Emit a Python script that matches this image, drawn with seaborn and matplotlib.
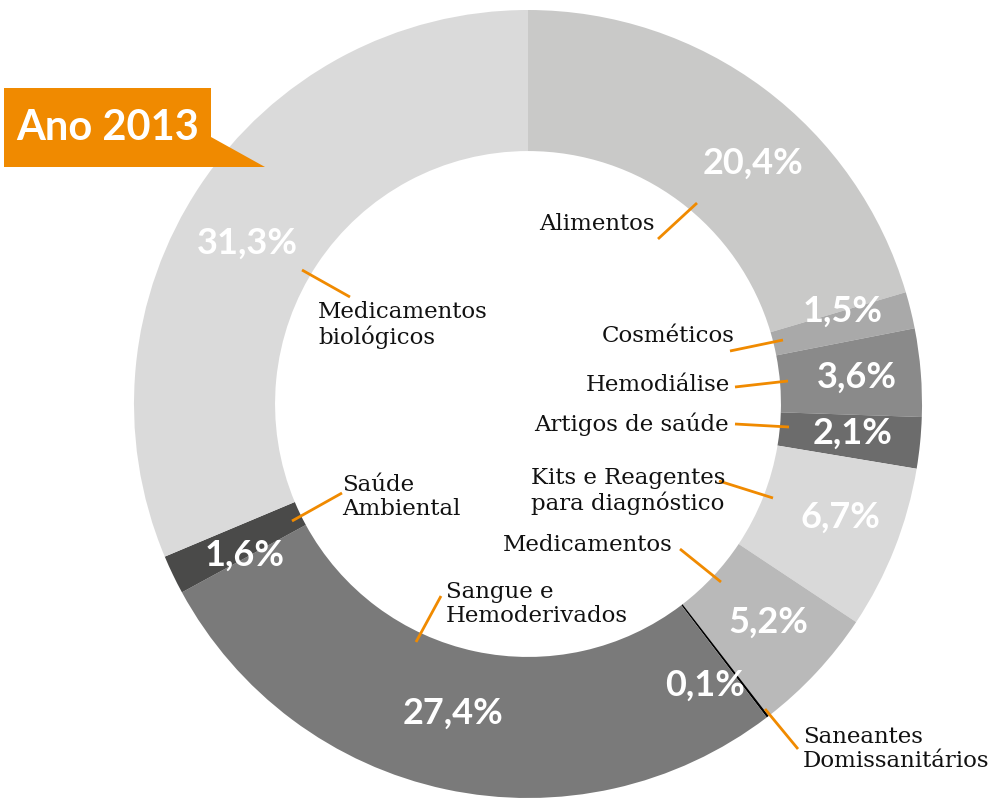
import matplotlib
matplotlib.use("Agg")
import matplotlib.pyplot as plt
from matplotlib.patches import Polygon
import seaborn as sns

# dados (fatias no sentido horário a partir do topo)
categorias = ["Alimentos", "Cosméticos", "Hemodiálise", "Artigos de saúde",
              "Kits e Reagentes\npara diagnóstico", "Medicamentos",
              "Saneantes\nDomissanitários", "Sangue e\nHemoderivados",
              "Saúde\nAmbiental", "Medicamentos\nbiológicos"]
valores = [20.4, 1.5, 3.6, 2.1, 6.7, 5.2, 0.1, 27.4, 1.6, 31.3]
rotulos_pct = ["20,4%", "1,5%", "3,6%", "2,1%", "6,7%", "5,2%", "0,1%", "27,4%", "1,6%", "31,3%"]
cores = ["#c9c9c8", "#a9a9a9", "#8a8a8a", "#6c6c6c", "#d9d9d9", "#b9b9b9",
         "#000000", "#7a7a7a", "#4a4a49", "#dadada"]
titulo = "Ano 2013"

sns.set_style("white")

W, H = 991, 799
cx, cy, R = 528, 404, 394
LARANJA = "#f08a00"


def px(x, y):
    # pixel da imagem -> coordenadas do eixo
    return ((x - cx) / R, (cy - y) / R)


fig = plt.figure(figsize=(W / 100, H / 100), dpi=100)
ax = fig.add_axes([0, 0, 1, 1])

ax.pie(valores, colors=cores, startangle=90, counterclock=False, radius=1,
       wedgeprops=dict(width=0.358, linewidth=0))
ax.set_xlim(-cx / R, (W - cx) / R)
ax.set_ylim(-(H - cy) / R, cy / R)
ax.set_aspect("auto")
ax.axis("off")

# posições dos percentuais (px)
pos_pct = [(753, 163), (843, 311), (857, 377), (853, 433), (840, 517),
           (768, 622), (705, 685), (453, 713), (245, 555), (247, 243)]
for txt, (x, y) in zip(rotulos_pct, pos_pct):
    ax.text(*px(x, y), txt, color="white", fontsize=26, fontweight="bold",
            family="Lato", ha="center", va="center")

# rótulos e linhas de chamada (px): ponto do texto, alinhamento, linha
layout = [
    ((655, 224), "right", ((697, 203), (658, 239))),
    ((735, 336), "right", ((783, 340), (730, 351))),
    ((730, 385), "right", ((788, 381), (735, 387))),
    ((729, 424), "right", ((789, 427), (735, 424))),
    ((531, 491), "left", ((773, 498), (719, 481))),
    ((673, 545), "right", ((721, 582), (680, 549))),
    ((803, 749), "left", ((765, 709), (798, 749))),
    ((446, 604), "left", ((441, 596), (416, 642))),
    ((342, 497), "left", ((342, 493), (292, 521))),
    ((318, 325), "left", ((302, 270), (350, 297))),
]
for nome, ((x, y), ha, (p1, p2)) in zip(categorias, layout):
    ax.text(*px(x, y), nome, fontsize=16.5, family="DejaVu Serif", color="#111111",
            ha=ha, va="center", linespacing=1.1)
    (x1, y1), (x2, y2) = px(*p1), px(*p2)
    ax.plot([x1, x2], [y1, y2], color=LARANJA, lw=2, solid_capstyle="butt")

# faixa laranja com o ano
banner = Polygon([px(4, 88), px(211, 88), px(211, 137), px(265, 167), px(4, 167)],
                 closed=True, color=LARANJA, lw=0)
ax.add_patch(banner)
ax.text(*px(108, 128), titulo, color="white", fontsize=30, family="Lato",
        fontweight="bold", ha="center", va="center")

fig.savefig("out.png", dpi=100)
